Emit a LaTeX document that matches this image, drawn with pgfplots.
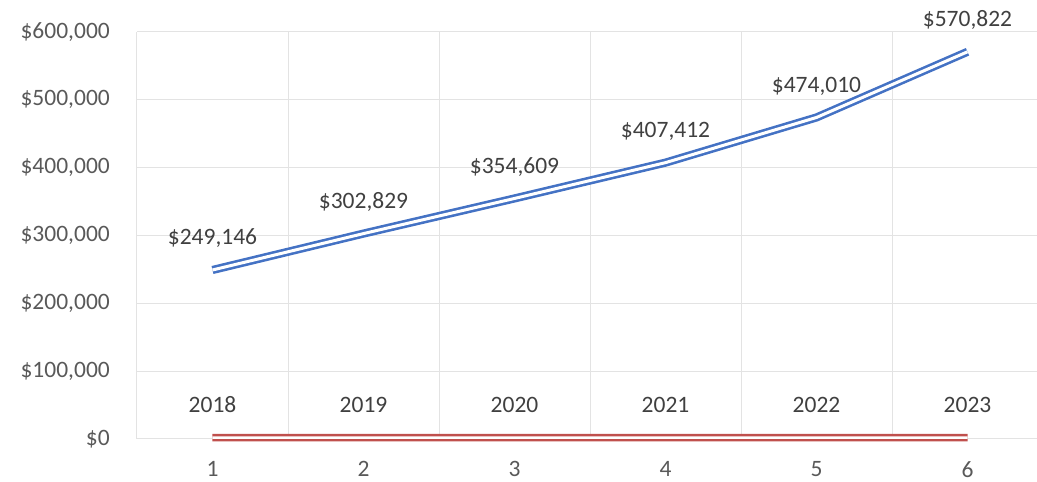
\documentclass[border=0pt]{standalone}
\usepackage{pgfplots}
\pgfplotsset{compat=1.18}
\usepackage{fontspec}
\setmainfont{Carlito}
\definecolor{bl}{HTML}{4472C4}
\definecolor{rd}{HTML}{C0504D}
\definecolor{grd}{HTML}{E3E3E3}
\definecolor{txt}{HTML}{595959}
\definecolor{lbl}{HTML}{404040}
\begin{document}
\fontsize{23.5}{28}\selectfont
\begin{tikzpicture}
\begin{axis}[
  at={(137pt,43pt)}, anchor=south west,
  scale only axis, width=906pt, height=407pt,
  xmin=0.5, xmax=6.5, ymin=0, ymax=600000,
  clip=false,
  xtick={1,2,3,4,5,6},
  ytick={0,100000,200000,300000,400000,500000,600000},
  yticklabels={{\$0},{\$100,000},{\$200,000},{\$300,000},{\$400,000},{\$500,000},{\$600,000}},
  minor xtick={0.5,1.5,2.5,3.5,4.5,5.5,6.5},
  xmajorgrids=false, xminorgrids=true, ymajorgrids=true,
  grid style={grd, line width=1pt},
  minor grid style={grd, line width=1pt},
  axis line style={draw=none},
  major tick length=0pt, minor tick length=0pt,
  /pgf/number format/assume math mode=true,
  ticklabel style={font=\fontsize{23.5}{28}\selectfont, text=txt, inner sep=0pt},
  xticklabel style={yshift=-22pt},
  yticklabel style={xshift=-27pt},
  scaled y ticks=false,
  no markers,
  point meta=explicit symbolic,
  nodes near coords,
  every node near coord/.style={anchor=base, yshift=25pt, text=lbl, font=\fontsize{23.5}{28}\selectfont, inner sep=0pt},
]
\addplot[rd, line width=2.4pt, double=white, double distance=2.5pt, line join=round]
  coordinates {(1,2018)[2018] (2,2019)[2019] (3,2020)[2020] (4,2021)[2021] (5,2022)[2022] (6,2023)[2023]};
\addplot[bl, line width=2.6pt, double=white, double distance=3pt, line join=round]
  coordinates {(1,249146)[\$249,146] (2,302829)[\$302,829] (3,354609)[\$354,609] (4,407412)[\$407,412] (5,474010)[\$474,010] (6,570822)[\$570,822]};
\end{axis}
\pgfresetboundingbox
\useasboundingbox (0,0) rectangle (1037pt,482pt);
\end{tikzpicture}
\end{document}
